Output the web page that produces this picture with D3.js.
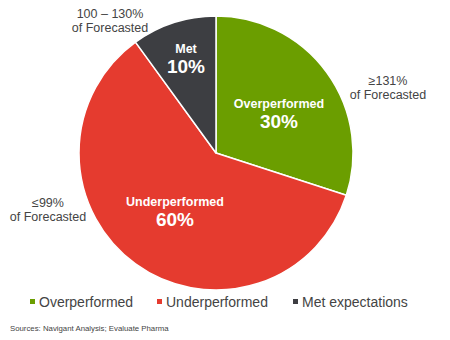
<!DOCTYPE html>
<html>
<head>
<meta charset="utf-8">
<script src="https://cdn.jsdelivr.net/npm/d3@7"></script>
<style>
  body { margin: 0; background: #fff; }
  svg { font-family: "Liberation Sans", Arial, sans-serif; display: block; }
</style>
</head>
<body>
<div id="chart"></div>
<script>
// data
const categories = ["Overperformed", "Underperformed", "Met"];
const shares = [30, 60, 10];
const rangeLines = [["≥131%", "of Forecasted"], ["≤99%", "of Forecasted"], ["100 – 130%", "of Forecasted"]];
const legendLabels = ["Overperformed", "Underperformed", "Met expectations"];
const colors = ["#6b9e00", "#e53b2f", "#3d3e42"];

const width = 450, height = 340;
const cx = 216, cy = 153, radius = 137;

// label offsets from the pie centre (name baseline / first line baseline)
const innerPos = [[63, -45], [-41, 53], [-30, -100]];
const outerPos = [[172, -68], [-168, 54], [-106, -135]];

const svg = d3.select("#chart")
  .append("svg")
    .attr("width", width)
    .attr("height", height);

const data = categories.map((c, i) => ({name: c, value: shares[i], color: colors[i]}));

// pie, clockwise from 12 o'clock
const pie = d3.pie()
    .sort(null)
    .value(d => d.value);

const arc = d3.arc()
    .innerRadius(0)
    .outerRadius(radius);

const g = svg.append("g")
    .attr("transform", "translate(" + cx + "," + cy + ")");

const arcs = pie(data);

g.selectAll("path")
  .data(arcs)
  .join("path")
    .attr("d", arc)
    .attr("fill", d => d.data.color)
    .attr("stroke", "#fff")
    .attr("stroke-width", 1.5)
    .attr("stroke-linejoin", "round");

// inside labels (name + percentage)
arcs.forEach((a, i) => {
  const [x, y] = innerPos[i];
  g.append("text")
    .attr("x", x).attr("y", y)
    .attr("text-anchor", "middle")
    .attr("fill", "#fff")
    .attr("font-weight", "bold")
    .attr("font-size", "12.5px")
    .text(a.data.name);
  g.append("text")
    .attr("x", x).attr("y", y + 20)
    .attr("text-anchor", "middle")
    .attr("fill", "#fff")
    .attr("font-weight", "bold")
    .attr("font-size", "19px")
    .text(a.data.value + "%");
});

// outside range labels
arcs.forEach((a, i) => {
  const [x, y] = outerPos[i];
  const t = g.append("text")
    .attr("text-anchor", "middle")
    .attr("fill", "#444")
    .attr("font-size", "12.5px");
  rangeLines[i].forEach((line, j) => {
    t.append("tspan")
      .attr("x", x)
      .attr("y", y + j * 14)
      .text(line);
  });
});

// legend
const legendX = [30, 157, 293];
const legend = svg.append("g")
    .attr("transform", "translate(0,302)");

legendLabels.forEach((lab, i) => {
  legend.append("rect")
    .attr("x", legendX[i]).attr("y", -3)
    .attr("width", 5).attr("height", 5)
    .attr("fill", colors[i]);
  legend.append("text")
    .attr("x", legendX[i] + 9).attr("y", 0)
    .attr("dy", "0.35em")
    .attr("fill", "#444")
    .attr("font-size", "14px")
    .text(lab);
});

// source note
svg.append("text")
    .attr("x", 10).attr("y", 331)
    .attr("fill", "#444")
    .attr("font-size", "7.8px")
    .text("Sources: Navigant Analysis; Evaluate Pharma");
</script>
</body>
</html>
